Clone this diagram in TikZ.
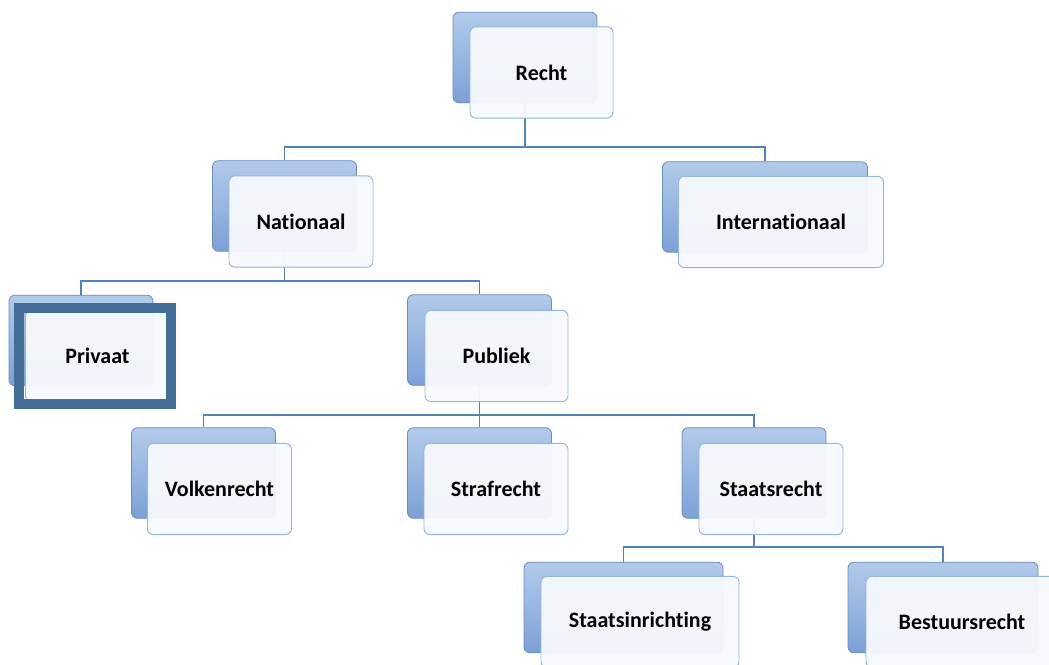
\documentclass[tikz,border=0pt]{standalone}
\usepackage{fontspec}
\setmainfont{Carlito}[Ligatures=NoCommon]
\begin{document}
\begin{tikzpicture}[x=0.75pt,y=-0.75pt,
  back/.style={rounded corners=4.5pt,draw=bLine,line width=0.6pt,
    top color=bTop,bottom color=bBot,inner sep=0pt},
  front/.style={rounded corners=4.5pt,draw=fLine,line width=0.7pt,
    fill=fFill,fill opacity=0.96,text opacity=1,inner sep=0pt,
    font=\fontsize{16.5}{19}\selectfont\bfseries},
  selected/.style={draw=selBlue,line width=7.5pt,inner sep=0pt,
    minimum width=114pt,minimum height=72pt},
  conn/.style={draw=cBlue,line width=1.4pt}]
  % colors
  \definecolor{bTop}{RGB}{178,203,235}
  \definecolor{bBot}{RGB}{124,160,214}
  \definecolor{bLine}{RGB}{108,140,186}
  \definecolor{fFill}{RGB}{246,249,253}
  \definecolor{fLine}{RGB}{150,180,212}
  \definecolor{cBlue}{RGB}{84,130,180}
  \definecolor{selBlue}{RGB}{66,110,152}
  \useasboundingbox (0,0) rectangle (1049,664);
  % back boxes
  \foreach \n/\x/\y/\w in {recht/525/57.5/144, nationaal/284.5/206/144,
      internationaal/765/207/205, privaat/81/340.5/144, publiek/479.5/340/144,
      volkenrecht/203.5/473/144, strafrecht/479.5/473/144,
      staatsrecht/754/473/144, staatsinrichting/623.5/607.5/199,
      bestuursrecht/943/607.5/190}
    \node[back,minimum width=\w*0.75pt,minimum height=68pt] (\n-b) at (\x,\y) {};
  % connectors
  \draw[conn] (recht-b.south) -- ++(0,43.5) -| (nationaal-b.north);
  \draw[conn] (recht-b.south) -- ++(0,43.5) -| (internationaal-b.north);
  \draw[conn] (nationaal-b.south) -- ++(0,29) -| (privaat-b.north);
  \draw[conn] (nationaal-b.south) -- ++(0,29) -| (publiek-b.north);
  \draw[conn] (publiek-b.south) -- ++(0,29) -| (volkenrecht-b.north);
  \draw[conn] (publiek-b.south) -- ++(0,29) -| (strafrecht-b.north);
  \draw[conn] (publiek-b.south) -- ++(0,29) -| (staatsrecht-b.north);
  \draw[conn] (staatsrecht-b.south) -- ++(0,28) -| (staatsinrichting-b.north);
  \draw[conn] (staatsrecht-b.south) -- ++(0,28) -| (bestuursrecht-b.north);
  % front boxes
  \foreach \n/\x/\y/\w/\t in {recht/541.5/72.5/143/Recht,
      nationaal/301/221.5/144/Nationaal,
      internationaal/781/222/205/Internationaal,
      privaat/97.5/356/144/Privaat,
      publiek/496.5/356/143/Publiek,
      volkenrecht/219.5/489/144/Volkenrecht,
      strafrecht/496/489/144/Strafrecht,
      staatsrecht/771/489/144/Staatsrecht,
      staatsinrichting/640/622/198/Staatsinrichting,
      bestuursrecht/962/622/192/Bestuursrecht}
    \node[front,minimum width=\w*0.75pt,minimum height=68.5pt] (\n) at (\x,\y) {\t};
  % selection frame
  \node[selected] (privaat-sel) at (95,356) {};
\end{tikzpicture}
\end{document}
